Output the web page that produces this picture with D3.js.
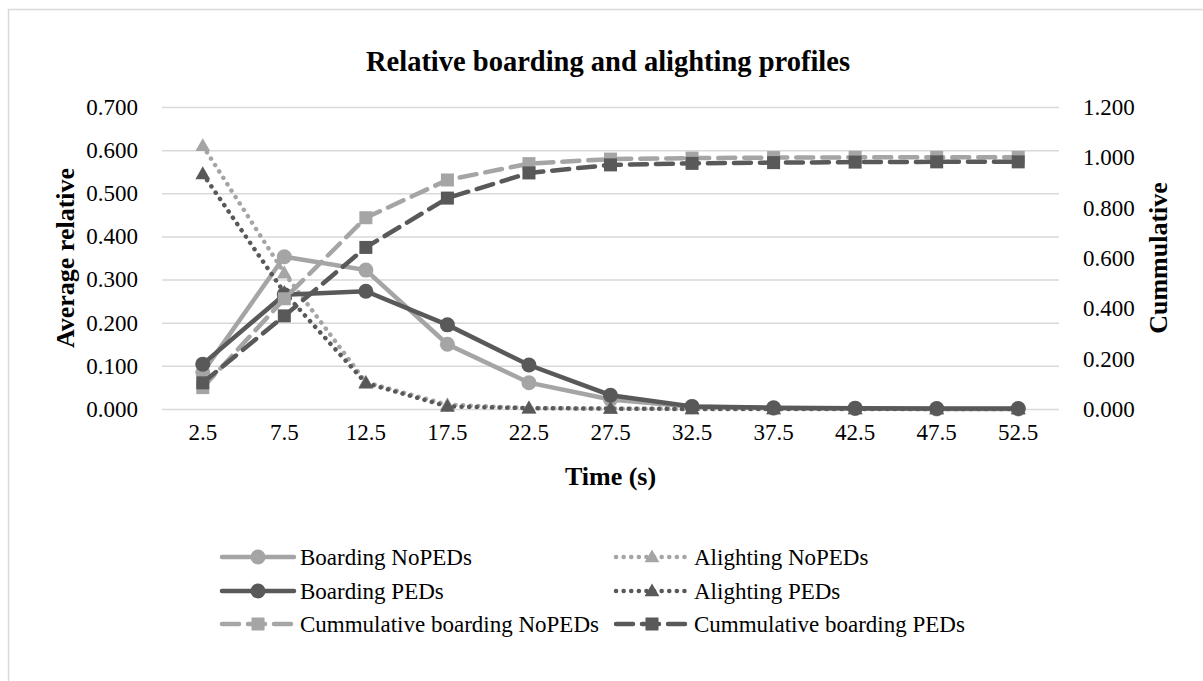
<!DOCTYPE html>
<html>
<head>
<meta charset="utf-8">
<script src="https://cdn.jsdelivr.net/npm/d3@7"></script>
<style>
  body { margin: 0; background: #fff; }
  svg, svg text { font-family: "Liberation Serif", "Times New Roman", serif; }
</style>
</head>
<body>
<svg id="chart" width="1203" height="681"></svg>
<script>
// Data
const categories = ['2.5', '7.5', '12.5', '17.5', '22.5', '27.5', '32.5', '37.5', '42.5', '47.5', '52.5'];
const boardingNoPEDs = [0.085, 0.353, 0.322, 0.150, 0.061, 0.022, 0.005, 0.002, 0.001, 0.000, 0.000];
const alightingNoPEDs = [0.610, 0.315, 0.062, 0.010, 0.002, 0.001, 0.000, 0.000, 0.000, 0.000, 0.000];
const boardingPEDs = [0.104, 0.265, 0.273, 0.195, 0.102, 0.032, 0.006, 0.003, 0.002, 0.001, 0.001];
const alightingPEDs = [0.545, 0.270, 0.060, 0.006, 0.002, 0.001, 0.000, 0.000, 0.000, 0.000, 0.000];
const cumNoPEDs = [0.085, 0.438, 0.760, 0.910, 0.975, 0.993, 0.997, 0.999, 1.000, 1.000, 1.000];
const cumPEDs = [0.104, 0.370, 0.642, 0.838, 0.938, 0.970, 0.976, 0.979, 0.981, 0.982, 0.982];

const leftTicks = [0, 0.1, 0.2, 0.3, 0.4, 0.5, 0.6, 0.7];
const rightTicks = [0, 0.2, 0.4, 0.6, 0.8, 1.0, 1.2];

const LIGHT = '#a5a5a5';
const DARK = '#595959';

const series = [
  { name: 'Boarding NoPEDs', values: boardingNoPEDs, color: LIGHT, style: 'solid', marker: 'circle', axis: 'left' },
  { name: 'Alighting NoPEDs', values: alightingNoPEDs, color: LIGHT, style: 'dot', marker: 'triangle', axis: 'left' },
  { name: 'Boarding PEDs', values: boardingPEDs, color: DARK, style: 'solid', marker: 'circle', axis: 'left' },
  { name: 'Alighting PEDs', values: alightingPEDs, color: DARK, style: 'dot', marker: 'triangle', axis: 'left' },
  { name: 'Cummulative boarding NoPEDs', values: cumNoPEDs, color: LIGHT, style: 'dash', marker: 'square', axis: 'right' },
  { name: 'Cummulative boarding PEDs', values: cumPEDs, color: DARK, style: 'dash', marker: 'square', axis: 'right' }
];

const svg = d3.select('#chart');

// chart frame
svg.append('rect')
  .attr('x', 8.5).attr('y', 9.5)
  .attr('width', 1220).attr('height', 700)
  .attr('fill', 'none')
  .attr('stroke', '#d9d9d9')
  .attr('stroke-width', 1.5);

const plot = { left: 162, right: 1059, top: 107, bottom: 409 };

const x = d3.scaleBand().domain(categories).range([plot.left, plot.right]);
const yLeft = d3.scaleLinear().domain([0, 0.7]).range([plot.bottom, plot.top]);
const yRight = d3.scaleLinear().domain([0, 1.2]).range([plot.bottom, plot.top]);
const cx = c => x(c) + x.bandwidth() / 2;

// gridlines
svg.append('g')
  .attr('transform', `translate(${plot.left},0)`)
  .call(d3.axisLeft(yLeft).tickValues(leftTicks).tickSize(-(plot.right - plot.left)).tickFormat(''))
  .call(g => g.select('.domain').remove())
  .call(g => g.selectAll('line').attr('stroke', '#d9d9d9').attr('stroke-width', 1.5));

// plain tick labels in the serif font
function tickText(g) {
  g.attr('font-family', null).attr('font-size', null);
  g.select('.domain').remove();
  g.selectAll('text').attr('font-size', 23).attr('fill', '#000');
}

// left axis labels
svg.append('g')
  .attr('transform', `translate(${plot.left - 21},0)`)
  .call(d3.axisLeft(yLeft).tickValues(leftTicks).tickSize(0).tickFormat(d3.format('.3f')))
  .call(tickText);

// right axis labels
svg.append('g')
  .attr('transform', `translate(${plot.right + 21},0)`)
  .call(d3.axisRight(yRight).tickValues(rightTicks).tickSize(0).tickFormat(d3.format('.3f')))
  .call(tickText);

// x axis labels
svg.append('g')
  .attr('transform', `translate(0,${plot.bottom + 12})`)
  .call(d3.axisBottom(x).tickSize(0))
  .call(tickText);

// titles
svg.append('text')
  .attr('x', 608).attr('y', 71)
  .attr('text-anchor', 'middle')
  .attr('font-size', 28.5).attr('font-weight', 'bold')
  .text('Relative boarding and alighting profiles');

svg.append('text')
  .attr('x', (plot.left + plot.right) / 2).attr('y', 485)
  .attr('text-anchor', 'middle')
  .attr('font-size', 26).attr('font-weight', 'bold')
  .text('Time (s)');

svg.append('text')
  .attr('transform', `translate(74,${(plot.top + plot.bottom) / 2}) rotate(-90)`)
  .attr('text-anchor', 'middle')
  .attr('font-size', 26).attr('font-weight', 'bold')
  .text('Average relative');

svg.append('text')
  .attr('transform', `translate(1167,${(plot.top + plot.bottom) / 2}) rotate(-90)`)
  .attr('text-anchor', 'middle')
  .attr('font-size', 26).attr('font-weight', 'bold')
  .text('Cummulative');

// line styles
function styleLine(sel, s) {
  sel.attr('fill', 'none')
    .attr('stroke', s.color)
    .attr('stroke-width', s.style === 'dot' ? 4.5 : 4.5);
  if (s.style === 'dot') sel.attr('stroke-dasharray', '0.1,7.5').attr('stroke-linecap', 'round');
  if (s.style === 'dash') sel.attr('stroke-dasharray', '17,9').attr('stroke-linecap', 'round');
  if (s.style === 'solid') sel.attr('stroke-linecap', 'round');
}

function drawMarker(g, s, px, py) {
  if (s.marker === 'circle') {
    g.append('circle').attr('cx', px).attr('cy', py).attr('r', 7.5).attr('fill', s.color);
  } else if (s.marker === 'square') {
    g.append('rect').attr('x', px - 6.5).attr('y', py - 6.5).attr('width', 13).attr('height', 13).attr('fill', s.color);
  } else {
    g.append('path')
      .attr('d', d3.symbol().type(d3.symbolTriangle).size(95)())
      .attr('transform', `translate(${px},${py + 1})`)
      .attr('fill', s.color);
  }
}

// series
series.forEach(s => {
  const y = s.axis === 'left' ? yLeft : yRight;
  const g = svg.append('g');
  const line = d3.line().x((d, i) => cx(categories[i])).y(d => y(d));
  g.append('path').datum(s.values).attr('d', line).call(styleLine, s);
  s.values.forEach((v, i) => drawMarker(g, s, cx(categories[i]), y(v)));
});

// legend, two columns
const legendCols = [222, 616];
const legendRows = [557, 591, 624];
series.forEach((s, i) => {
  const lx = legendCols[i % 2];
  const ly = legendRows[Math.floor(i / 2)];
  const g = svg.append('g');
  g.append('line')
    .attr('x1', lx).attr('x2', lx + 72)
    .attr('y1', ly).attr('y2', ly)
    .call(styleLine, s);
  drawMarker(g, s, lx + 36, ly);
  g.append('text')
    .attr('x', lx + 78).attr('y', ly)
    .attr('dy', '0.35em')
    .attr('font-size', 23)
    .text(s.name);
});
</script>
</body>
</html>
